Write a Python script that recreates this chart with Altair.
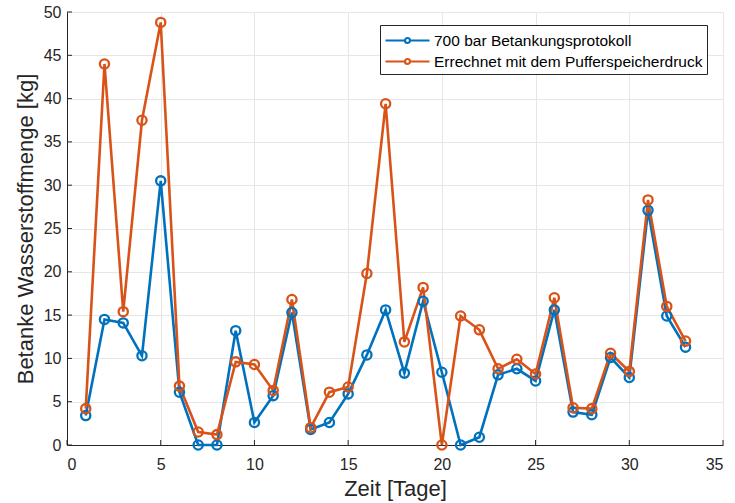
import altair as alt
import pandas as pd

tage = list(range(1, 34))
protokoll = [3.4, 14.5, 14.1, 10.3, 30.5, 6.1, 0.0, 0.0, 13.2, 2.6, 5.7, 15.3, 1.8, 2.6,
             5.9, 10.4, 15.6, 8.3, 16.6, 8.4, 0.0, 0.9, 8.1, 8.8, 7.4, 15.6, 3.8, 3.5,
             10.1, 7.8, 27.1, 14.9, 11.3]
errechnet = [4.2, 44.0, 15.4, 37.5, 48.8, 6.8, 1.5, 1.2, 9.6, 9.3, 6.3, 16.8, 2.0, 6.1,
             6.7, 19.8, 39.4, 11.9, 18.2, 0.0, 14.9, 13.3, 8.8, 9.9, 8.2, 17.0, 4.3, 4.2,
             10.6, 8.5, 28.3, 16.0, 12.0]
serien = ["700 bar Betankungsprotokoll", "Errechnet mit dem Pufferspeicherdruck"]
farben = ["#0072BD", "#D95319"]
x_ticks = [0, 5, 10, 15, 20, 25, 30, 35]
y_ticks = [0, 5, 10, 15, 20, 25, 30, 35, 40, 45, 50]

W, H = 656, 433

df = pd.DataFrame({
    "Tag": tage * 2,
    "Wert": protokoll + errechnet,
    "Serie": [serien[0]] * len(tage) + [serien[1]] * len(tage),
    "ord": [0] * len(tage) + [1] * len(tage),
})

xscale = alt.Scale(domain=[0, 35], nice=False, zero=False)
yscale = alt.Scale(domain=[0, 50], nice=False)

legend_path = ("M-1,0 L0.95,0 M1.45,0 L3.4,0 "
               "M1.45,0 A0.25,0.25 0 1,1 0.95,0 A0.25,0.25 0 1,1 1.45,0")

color = alt.Color(
    "Serie:N",
    scale=alt.Scale(domain=serien, range=farben),
    legend=alt.Legend(
        title=None, orient="none", legendX=313, legendY=13,
        symbolType=legend_path, symbolSize=400, symbolStrokeWidth=2.2,
        symbolFillColor="white", labelOffset=27, labelLimit=500,
        labelFont="Liberation Sans", labelFontSize=15.5, labelColor="#000000",
        strokeColor="#262626", fillColor="white", padding=4, rowPadding=1,
        cornerRadius=0,
    ),
)

base = alt.Chart(df).encode(
    x=alt.X("Tag:Q", scale=xscale,
            axis=alt.Axis(values=x_ticks, title="Zeit [Tage]", tickSize=0,
                          labelPadding=11, titlePadding=6, format="d")),
    y=alt.Y("Wert:Q", scale=yscale,
            axis=alt.Axis(values=y_ticks, title="Betanke Wasserstoffmenge [kg]",
                          tickSize=0, labelPadding=6, titlePadding=6, format="d")),
    color=color,
    order=alt.Order("ord:Q"),
)

lines = base.mark_line(strokeWidth=2.6).encode(detail="Serie:N")
points = base.mark_point(shape="circle", size=85, strokeWidth=2.3, filled=False,
                         fill="white", fillOpacity=0, opacity=1)

ytick_df = pd.DataFrame({"v": y_ticks})
xtick_df = pd.DataFrame({"v": x_ticks})
yt = alt.Chart(ytick_df).mark_rule(color="#262626", strokeWidth=1).encode(
    y=alt.Y("v:Q", scale=yscale), x=alt.value(0), x2=alt.value(5))
xt = alt.Chart(xtick_df).mark_rule(color="#262626", strokeWidth=1).encode(
    x=alt.X("v:Q", scale=xscale), y=alt.value(H), y2=alt.value(H - 5))

chart = alt.layer(yt, xt, lines, points).properties(
    width=W, height=H,
    autosize=alt.AutoSizeParams(type="none"),
    padding={"left": 67, "top": 12, "right": 12, "bottom": 58},
).configure_view(stroke=None).configure_axis(
    grid=True, gridColor="#E6E6E6", gridWidth=1,
    domainColor="#262626", domainWidth=1,
    labelFont="Liberation Sans", labelFontSize=16, labelColor="#262626",
    titleFont="Liberation Sans", titleFontSize=22, titleColor="#262626",
    titleFontWeight="normal",
).configure_axisY(labelAlign="right")

chart.save("out.html", embed_options={"renderer": "svg", "actions": False})
